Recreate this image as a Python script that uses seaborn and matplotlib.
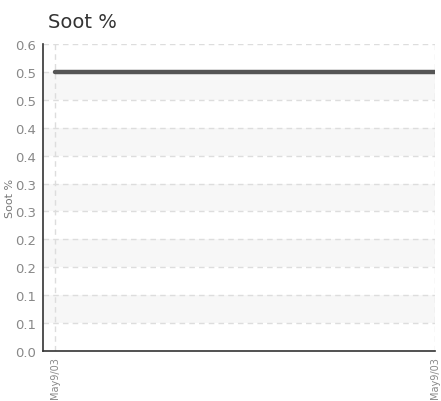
import matplotlib
matplotlib.use("Agg")
import matplotlib.pyplot as plt
import seaborn as sns
import numpy as np
import pandas as pd

# data
x_pos = [0, 1]
x_labels = ["May9/03", "May9/03"]
soot = [0.545, 0.545]
y_ticks = [round(0.6 / 11 * i, 4) for i in range(12)]
y_tick_labels = ["0.0", "0.1", "0.1", "0.2", "0.2", "0.3", "0.3", "0.4", "0.4", "0.5", "0.5", "0.6"]

sns.set_style("white")
plt.rcParams['font.family'] = ['DejaVu Sans']

fig = plt.figure(figsize=(4.41, 4.02), dpi=100)
ax = fig.add_axes([43/441, 50/402, (435-43)/441, (352-45)/402])

df = pd.DataFrame({"x": x_pos, "soot": soot})
# alternating bands
for i in range(len(y_ticks) - 1):
    if i % 2 == 1:
        ax.axhspan(y_ticks[i], y_ticks[i + 1], color="#f7f7f7", zorder=0, lw=0)

sns.lineplot(data=df, x="x", y="soot", ax=ax, color="#555555", linewidth=3.2, zorder=3)

ax.set_xlim(-0.0314, 1.0)
ax.set_ylim(0, 0.6)
ax.set_yticks(y_ticks)
ax.set_yticklabels(y_tick_labels)
ax.set_xticks(x_pos)
ax.set_xticklabels(x_labels, rotation=90)

for yv in y_ticks[1:]:
    ax.axhline(yv, color="#dddddd", lw=1, ls=(0, (4, 3)), zorder=1)
for xv in x_pos:
    ax.axvline(xv, color="#dddddd", lw=1, ls=(0, (4, 3)), zorder=1)

ax.tick_params(axis="both", direction="inout", length=6, width=1, color="#333333",
               labelcolor="#888888", pad=2)
ax.tick_params(axis="y", labelsize=9.5)
ax.tick_params(axis="x", labelsize=7, pad=1)
for s in ["top", "right"]:
    ax.spines[s].set_visible(False)
for s in ["left", "bottom"]:
    ax.spines[s].set_color("#333333")
    ax.spines[s].set_linewidth(1.2)

ax.set_xlabel("")
ax.set_ylabel("Soot %", fontsize=8, color="#777777", labelpad=0)
fig.text(48/441, 1 - 22/402, "Soot %", fontsize=14, color="#333333",
         family="DejaVu Sans", va="center", ha="left")

fig.savefig("out.png", dpi=100)
